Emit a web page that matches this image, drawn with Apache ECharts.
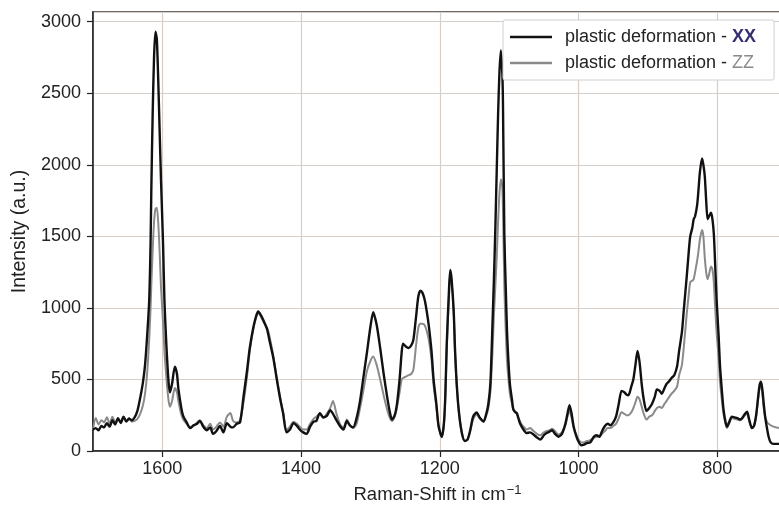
<!DOCTYPE html>
<html>
<head>
<meta charset="utf-8">
<script src="https://cdn.jsdelivr.net/npm/echarts@6/dist/echarts.min.js"></script>
<style>
html,body{margin:0;padding:0;background:#fff;}
#chart{width:779px;height:506px;}
</style>
</head>
<body>
<div id="chart"></div>
<script>
// Raman shift (cm^-1)
const shift = [1700,1696,1692,1688,1684,1680,1676,1672,1668,1664,1660,1656,1652,1648,1644,1640,1636,1632,1628,1625,1622,1619,1617,1616,1614,1612,1610,1608,1606,1604,1602,1599,1597,1594,1591,1589,1586,1582,1579,1577,1573,1570,1565,1560,1555,1550,1546,1541,1536,1531,1527,1522,1517,1512,1507,1502,1498,1493,1488,1483,1478,1474,1469,1465,1462,1458,1454,1449,1445,1440,1435,1430,1426,1421,1416,1411,1406,1401,1397,1392,1387,1382,1378,1373,1368,1363,1358,1354,1349,1344,1339,1334,1330,1325,1320,1315,1310,1305,1300,1296,1291,1286,1281,1276,1272,1269,1265,1262,1258,1255,1253,1249,1245,1241,1238,1234,1231,1228,1225,1222,1219,1216,1212,1209,1205,1202,1199,1197,1194,1192,1190,1187,1185,1183,1180,1178,1175,1172,1168,1164,1160,1156,1152,1147,1142,1137,1133,1130,1127,1124,1122,1120,1118,1116,1114,1112,1110,1109,1107,1105,1103,1101,1099,1096,1094,1091,1089,1085,1082,1078,1075,1070,1065,1060,1055,1050,1046,1042,1038,1034,1029,1024,1019,1016,1013,1010,1007,1003,1000,996,992,988,983,978,974,970,966,962,958,954,950,946,942,938,934,931,928,924,921,918,915,912,909,906,902,898,894,890,887,883,880,876,873,869,866,862,858,855,851,848,844,841,839,836,834,832,829,827,825,822,820,818,816,814,812,809,807,805,803,801,798,796,793,791,788,786,783,779,775,771,767,764,760,757,754,750,747,744,741,739,737,735,733,731,728,726,723,719,715,711];
// plastic deformation - XX
const intensityXX = [150,160,145,175,165,195,170,215,185,230,195,240,205,225,215,235,280,370,480,600,800,1050,1450,1800,2350,2750,2930,2880,2600,2250,1900,1450,1050,720,480,410,470,590,540,440,310,245,200,160,180,190,210,170,145,165,120,140,175,130,195,170,165,190,200,380,560,720,860,940,975,950,910,850,760,650,500,360,265,130,150,195,175,145,130,120,170,205,210,265,235,245,285,260,215,175,150,210,180,165,230,350,520,690,870,970,880,720,540,380,270,220,250,320,500,690,750,730,720,740,780,950,1080,1120,1105,1060,980,880,700,500,330,180,120,100,200,400,750,1100,1265,1200,980,700,420,250,120,70,80,150,240,270,230,205,260,330,480,900,1200,1550,1950,2350,2650,2800,2650,2450,1520,1150,820,620,470,360,290,270,265,200,170,140,125,130,115,95,80,110,125,135,145,120,100,120,190,260,320,260,170,100,65,40,45,55,60,100,110,100,140,175,190,180,200,240,330,420,410,395,390,450,500,600,700,620,470,360,280,300,330,380,430,420,400,440,470,490,510,530,590,700,830,1000,1220,1400,1500,1560,1620,1640,1720,1830,1950,2045,2000,1920,1750,1620,1640,1665,1620,1520,1300,1060,800,590,400,290,200,170,200,240,235,230,220,230,260,275,220,160,175,250,380,460,485,430,330,240,150,100,60,50,50,50];
// plastic deformation - ZZ
const intensityZZ = [150,230,185,215,200,235,190,240,200,220,205,235,210,230,205,210,225,260,320,400,540,780,1000,1150,1400,1600,1690,1700,1600,1400,1150,900,700,500,350,310,350,440,410,350,260,220,190,165,175,200,215,180,160,190,150,170,200,170,240,265,210,200,215,340,520,700,850,930,965,940,900,860,790,660,510,370,275,150,170,205,190,165,150,150,190,225,240,260,230,260,300,350,260,190,160,220,185,160,190,300,430,560,630,660,600,500,390,290,230,210,240,300,410,500,510,520,530,540,570,750,860,890,890,880,840,780,640,460,310,180,120,100,190,380,720,1060,1240,1180,960,680,410,250,120,70,80,140,220,255,225,210,250,300,420,700,950,1150,1350,1600,1800,1900,1850,1700,1150,850,620,500,400,330,290,275,260,215,185,165,150,160,140,120,110,130,140,145,155,140,115,130,180,240,280,230,160,110,80,60,60,70,75,90,100,100,120,140,160,160,175,190,230,270,260,250,250,270,300,340,380,360,310,260,220,240,250,280,300,310,300,330,350,380,400,420,450,530,600,740,960,1100,1180,1190,1200,1250,1330,1400,1480,1545,1500,1350,1250,1200,1230,1290,1270,1180,1000,830,650,480,340,260,190,160,190,230,225,220,215,225,250,260,210,160,180,240,370,440,460,400,300,240,200,190,180,170,165,160];
const seriesNames = ['plastic deformation - XX', 'plastic deformation - ZZ'];
const yTicks = [0, 500, 1000, 1500, 2000, 2500, 3000];
const xTicks = [1600, 1400, 1200, 1000, 800];

const FONT = '"Liberation Sans", Arial, Helvetica, sans-serif';
const pairs = (ys) => shift.map((x, i) => [x, ys[i]]);

const chart = echarts.init(document.getElementById('chart'), null, {renderer: 'canvas'});
chart.setOption({
  backgroundColor: '#ffffff',
  animation: false,
  grid: {
    left: 93, top: 12, right: -77, bottom: 55,
    outerBoundsMode: 'none', containLabel: false,
    show: true, borderColor: '#3a3a3a', borderWidth: 1.5, backgroundColor: 'transparent'
  },
  legend: {
    data: seriesNames,
    orient: 'vertical',
    left: 503, top: 20,
    padding: [8, 18, 8, 7],
    itemGap: 8,
    icon: 'rect',
    itemWidth: 42, itemHeight: 2.5,
    backgroundColor: '#ffffff',
    borderColor: '#d0d0d0', borderWidth: 1, borderRadius: 2,
    textStyle: {
      fontFamily: FONT, fontSize: 18, color: '#222', lineHeight: 18,
      rich: {
        t: {fontFamily: FONT, fontSize: 18, color: '#222', padding: [0, 0, 0, 8]},
        x: {fontFamily: FONT, fontSize: 18, color: '#352e72', fontWeight: 'bold'},
        z: {fontFamily: FONT, fontSize: 18, color: '#8a8a8a'}
      }
    },
    formatter: function (name) {
      const idx = name.lastIndexOf(' - ');
      const suffix = name.slice(idx + 3);
      return '{t|' + name.slice(0, idx + 3) + '}{' + (suffix === 'XX' ? 'x' : 'z') + '|' + suffix + '}';
    }
  },
  xAxis: {
    type: 'value',
    inverse: true,
    min: 600, max: 1700, interval: 200,
    name: 'Raman-Shift in cm{sup|−1}',
    nameLocation: 'middle',
    nameGap: 33,
    nameTextStyle: {
      fontFamily: FONT, fontSize: 18.5, color: '#222',
      padding: [0, 74, 0, 0],
      rich: {sup: {fontFamily: FONT, fontSize: 13, color: '#222', verticalAlign: 'top', padding: [0, 0, 9, 1]}}
    },
    axisLine: {show: true, onZero: false, lineStyle: {color: '#222', width: 1.5}},
    axisTick: {show: true, length: 6, lineStyle: {color: '#222', width: 1.2}},
    axisLabel: {
      fontFamily: FONT, fontSize: 18, color: '#222', margin: 9,
      showMaxLabel: false,
      formatter: (v) => xTicks.indexOf(v) >= 0 ? String(v) : ''
    },
    splitLine: {show: true, lineStyle: {color: '#d8cec8', width: 1.2}}
  },
  yAxis: {
    type: 'value',
    min: 0, max: 3068, interval: 500,
    name: 'Intensity (a.u.)',
    nameLocation: 'middle',
    nameGap: 63,
    nameTextStyle: {fontFamily: FONT, fontSize: 19.5, color: '#222'},
    axisLine: {show: true, onZero: false, lineStyle: {color: '#222', width: 1.5}},
    axisTick: {show: true, length: 6, lineStyle: {color: '#222', width: 1.2}},
    axisLabel: {
      fontFamily: FONT, fontSize: 18, color: '#222', margin: 12,
      showMaxLabel: false,
      formatter: (v) => yTicks.indexOf(v) >= 0 ? String(v) : ''
    },
    splitLine: {show: true, lineStyle: {color: '#d8cec8', width: 1.2}}
  },
  series: [
    {
      name: seriesNames[0], type: 'line', data: pairs(intensityXX),
      symbol: 'none', showSymbol: false, smooth: 0.25, z: 3,
      lineStyle: {color: '#111111', width: 2.4}, itemStyle: {color: '#111111'}
    },
    {
      name: seriesNames[1], type: 'line', data: pairs(intensityZZ),
      symbol: 'none', showSymbol: false, smooth: 0.25, z: 2,
      lineStyle: {color: '#8a8a8a', width: 2}, itemStyle: {color: '#8a8a8a'}
    }
  ]
});
</script>
</body>
</html>
